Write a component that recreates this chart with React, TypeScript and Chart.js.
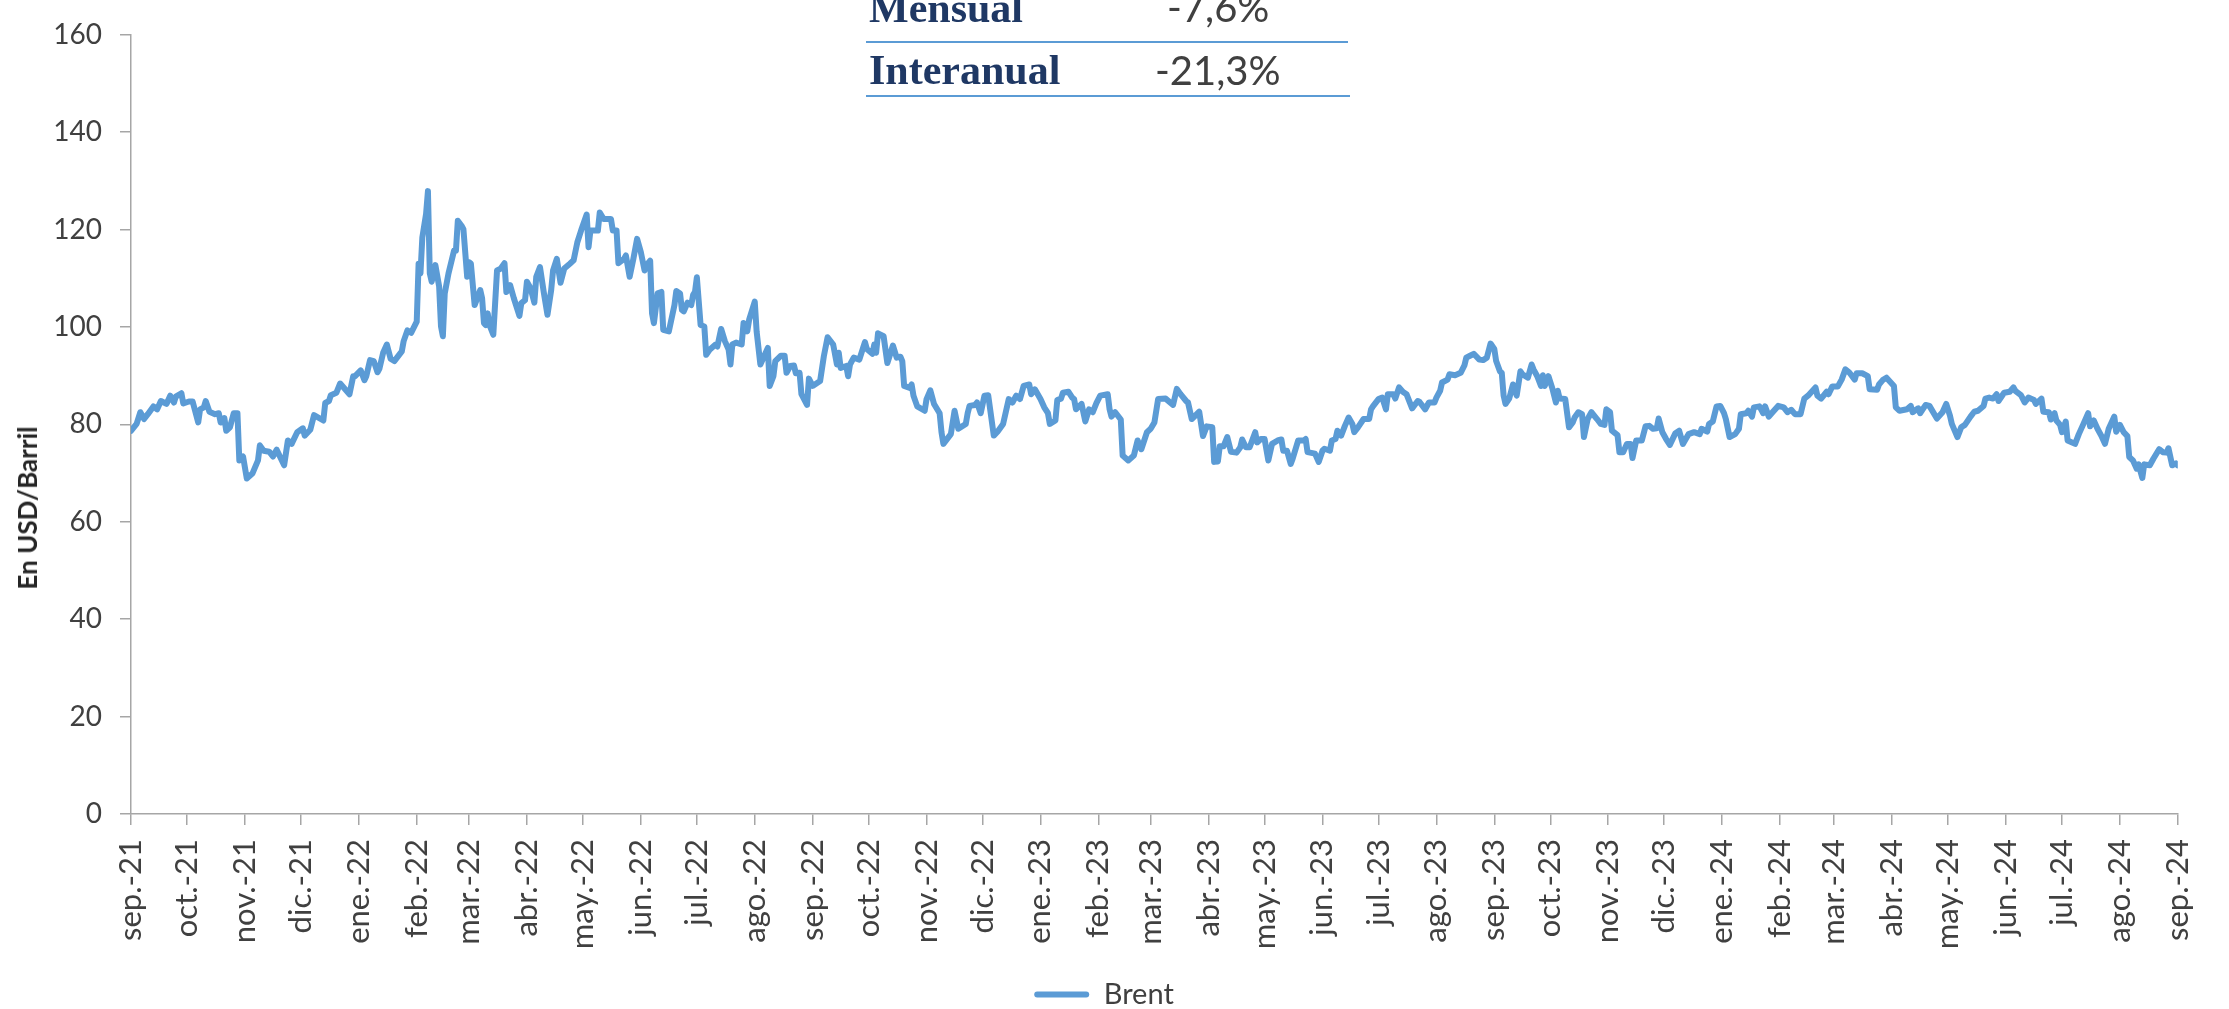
import React, { useEffect, useRef } from 'react';
import { Chart, registerables } from 'chart.js';

Chart.register(...registerables);

// Month tick labels (Excel-style date axis, Spanish locale)
const monthLabels = [
  'sep.-21', 'oct.-21', 'nov.-21', 'dic.-21',
  'ene.-22', 'feb.-22', 'mar.-22', 'abr.-22', 'may.-22', 'jun.-22', 'jul.-22', 'ago.-22', 'sep.-22', 'oct.-22', 'nov.-22', 'dic.-22',
  'ene.-23', 'feb.-23', 'mar.-23', 'abr.-23', 'may.-23', 'jun.-23', 'jul.-23', 'ago.-23', 'sep.-23', 'oct.-23', 'nov.-23', 'dic.-23',
  'ene.-24', 'feb.-24', 'mar.-24', 'abr.-24', 'may.-24', 'jun.-24', 'jul.-24', 'ago.-24', 'sep.-24',
];

const yTicks = [0, 20, 40, 60, 80, 100, 120, 140, 160];

// Days elapsed since 1 Sep 2021
const dayOffsets = [
  0, 3, 5, 7, 9, 12, 14, 16, 19, 21, 23, 24, 27, 28, 31, 33, 36, 37, 39, 40, 42, 45, 47, 48, 50, 51, 53, 55, 57, 58,
  60, 62, 65, 68, 69, 71, 74, 76, 78, 82, 84, 86, 89, 92, 93, 96, 98, 103, 104, 106, 107, 110, 112, 117, 119, 120,
  123, 125, 126, 128, 130, 132, 133, 135, 137, 139, 141, 145, 146, 148, 150, 153, 154, 155, 156, 158, 159, 160, 161,
  163, 165, 166, 167, 168, 170, 173, 174, 175, 177, 178, 180, 181, 182, 184, 185, 187, 188, 189, 190, 191, 192, 194,
  196, 198, 200, 201, 203, 205, 208, 209, 211, 212, 214, 216, 217, 219, 221, 223, 225, 226, 228, 230, 232, 235, 237,
  239, 241, 244, 245, 246, 250, 251, 253, 257, 258, 260, 261, 264, 265, 267, 269, 271, 273, 275,
  276, 278, 279, 280, 282, 284, 285, 288, 291, 292, 294, 295, 296, 298, 300, 301, 302, 303, 305, 307, 308, 310, 313,
  314, 316, 318, 320, 321, 322, 324, 327, 328, 330, 331, 334, 335, 337, 339, 341, 342, 344, 345, 348, 350, 351, 353,
  355, 356, 358, 359, 362, 363, 365, 369, 371, 373, 376, 378, 379, 380, 383, 384, 385, 387, 390, 392, 393, 394, 397,
  398, 399, 400, 403, 405, 408, 410, 412, 413, 414, 417, 418, 419, 421, 425, 426, 428, 430, 433, 434, 435, 439, 441,
  443, 447, 448, 449, 452, 453, 455, 457, 459, 462, 464, 467, 470, 472, 474, 476, 478, 481, 482, 484, 487, 489, 491,
  492, 495, 496, 498, 499, 502, 504, 505, 506, 509, 511, 513, 515, 517, 519, 523, 524, 525, 527, 530, 531, 534, 537,
  539, 541, 544, 546, 548, 550,
  554, 558, 560, 562, 565, 566, 568, 572, 574, 576, 579, 580, 582, 583, 585, 587, 589, 592, 594, 595, 597, 599, 602,
  603, 605, 607, 609, 611, 614, 616, 617, 619, 621, 622, 625, 628, 629, 630, 634, 636, 638, 639, 642, 643, 645, 646,
  648, 650, 652, 654, 655, 657, 660, 663, 664, 665, 668, 670, 672, 673, 676, 677, 679, 681, 683, 686, 689, 690, 693,
  695, 698, 699, 701, 702, 705, 706, 709, 712, 714, 715, 717, 719, 722, 724, 726, 728, 730, 731, 733, 734, 735, 736,
  738, 740, 742, 744, 745, 748, 750, 751, 753, 755, 756, 757, 759, 761, 763, 764, 765, 768, 770, 772, 773, 775, 777,
  778, 780, 782, 785, 787, 789, 790, 792, 793, 796, 797, 799, 801, 803, 804, 806, 809, 811, 813, 815, 817, 818, 820,
  822, 824,
  827, 829, 831, 834, 837, 840, 841, 844, 845, 847, 849, 851, 853, 854, 856, 859, 861, 862, 865, 866, 868, 869, 872,
  874, 875, 877, 879, 882, 885, 887, 889, 891, 894, 896, 898, 902, 903, 905, 908, 909, 911, 914, 916, 918, 920, 923,
  924, 927, 930, 931, 935, 936, 938, 940, 944, 945, 947, 951, 953, 954, 957, 958, 961, 963, 967, 970, 972, 974, 975,
  978, 980, 982, 985, 987, 989, 992, 993, 995, 997, 999, 1000, 1003, 1006, 1008, 1009, 1012, 1014, 1016, 1019, 1020,
  1023, 1024, 1027, 1028, 1030, 1031, 1033, 1034, 1036, 1037, 1041, 1043, 1045, 1048, 1049, 1051, 1053, 1055, 1057,
  1059, 1062, 1063, 1065, 1067, 1069, 1070, 1072, 1074, 1075, 1077, 1078, 1081, 1083, 1086, 1088, 1090, 1091, 1093,
  1095, 1096,
];

// Brent, USD per barrel
const brentUSD = [
  78.7, 80.1, 82.5, 81.1, 82.1, 83.7, 83.1, 84.8, 84.2, 85.9, 84.5, 85.7, 86.4, 84.3, 84.7, 84.7, 80.4, 83.1, 83.5, 84.8,
  82.6, 82.1, 82.3, 80.4, 81.3, 78.7, 79.4, 82.3, 82.3, 72.6,
  73.4, 68.9, 69.9, 72.6, 75.7, 74.6, 74.4, 73.4, 74.8, 71.6, 76.7, 76.0, 78.4, 79.2, 77.7, 78.9, 81.9, 80.8, 84.4, 84.8,
  86.0, 86.5, 88.4, 86.2, 89.9, 89.9,
  91.1, 89.1, 89.9, 93.2, 93.0, 90.7, 91.4, 94.7, 96.4, 93.5, 93.0, 95.0, 97.1, 99.3, 98.8, 101.1, 113.0, 111.0, 118.4,
  123.2, 127.9, 111.0, 109.3,
  112.7, 108.3, 100.1, 98.1, 106.9, 111.0, 115.7, 115.7, 121.8, 120.8, 120.1, 110.3, 113.3, 113.0, 104.5, 105.5, 107.6,
  105.9, 100.8, 100.4, 102.8, 100.4, 98.4,
  111.6, 112.0, 113.1, 107.2, 108.6, 105.9, 102.3, 104.9, 105.5, 109.3, 107.9, 105.0, 110.3, 112.3, 107.2, 102.5, 107.6,
  111.6, 114.0, 109.1, 112.0, 113.0, 113.7,
  117.4, 119.8, 123.1, 116.4, 119.8, 119.8, 123.5, 122.2, 122.2, 119.8, 119.8, 113.1, 114.0, 114.7, 110.3, 114.0, 118.1,
  115.4, 111.6,
  112.7, 113.6, 102.8, 100.8, 106.9, 107.2, 99.4, 99.1, 104.5, 107.4, 106.9, 103.5, 103.2, 105.0, 104.5, 106.6, 107.2,
  110.2, 100.4, 100.1, 94.3, 95.4, 96.4,
  96.0, 99.6, 97.1, 95.4, 92.3, 96.4, 96.8, 96.4, 100.8, 99.1, 101.5, 105.2, 99.1, 92.3, 94.0, 95.7, 87.9, 89.9, 93.0,
  94.1, 94.1, 90.6, 92.0,
  92.1, 90.5, 90.6, 86.2, 84.0, 89.4, 87.9, 88.9, 94.0, 97.9, 96.4, 92.3, 94.7, 91.6, 92.0, 89.9, 92.3, 93.7, 93.3,
  95.7, 96.9, 95.5, 94.5,
  96.4, 94.7, 98.7, 98.1, 92.6, 96.2, 93.7, 93.9, 93.0, 87.9, 87.5, 88.2, 85.9, 83.7, 82.8, 85.2, 87.0, 84.2, 82.3,
  78.4, 76.0, 78.0, 82.8,
  79.1, 80.1, 82.3, 83.8, 84.0, 84.5, 82.3, 85.9, 86.0, 77.7, 78.5, 80.1, 85.2, 84.5, 85.9, 85.2, 87.9, 88.2, 86.2,
  87.2, 85.2, 83.5, 82.3,
  80.1, 80.8, 85.0, 85.3, 86.5, 86.7, 85.5, 85.2, 83.1, 84.2, 80.6, 83.1, 82.5, 84.4, 85.9, 86.2, 83.1, 81.6, 82.5,
  81.0, 73.6, 72.6, 73.6,
  76.7, 74.9, 78.4, 79.1, 80.4, 85.2,
  85.3, 84.0, 87.3, 86.2, 84.8, 84.5, 81.1, 82.6, 77.6, 79.6, 79.4, 72.3, 72.4, 75.5, 75.5, 77.4, 74.4, 74.2, 75.3,
  76.9, 75.3, 75.3, 78.4,
  76.3, 77.0, 77.0, 72.6, 76.0, 76.7, 76.9, 74.6, 74.6, 71.9, 72.9, 76.7, 76.7, 77.0, 74.3, 74.0, 72.3, 74.6, 75.0,
  74.6, 76.7, 77.0, 78.7,
  77.7, 79.7, 81.4, 80.1, 78.4, 79.4, 81.1, 81.1, 83.1, 83.7, 85.2, 85.5, 83.1, 86.2, 86.2, 85.3, 87.6, 86.7, 86.2,
  83.3, 84.8, 84.6, 83.1,
  84.5, 84.5, 85.5, 86.9, 88.6, 89.2, 90.3, 90.1, 90.6, 92.1, 93.7, 94.1, 94.5, 93.3, 93.2, 93.7, 96.6, 95.5, 93.0,
  90.9, 90.6, 85.9, 84.2,
  85.3, 88.2, 85.9, 90.9, 90.3, 89.6, 92.3, 91.3, 89.9, 87.9, 90.1, 87.9, 89.9, 87.5, 84.5, 86.9, 85.3, 85.2, 79.4,
  80.4, 81.4, 82.5, 82.1,
  77.4, 81.1, 82.5, 81.1, 80.1, 79.9, 83.1, 82.5, 78.7, 77.8, 74.3, 74.3, 76.0, 76.0, 73.1, 76.7, 76.7, 79.6, 79.7,
  79.1, 79.2, 81.2, 78.4,
  77.0, 75.8,
  78.2, 78.7, 76.0, 78.0, 78.4, 78.0, 79.1, 78.5, 80.1, 80.6, 83.7, 83.8, 82.3, 81.1, 77.4, 78.0, 79.1, 82.1, 82.3,
  82.8, 81.6, 83.5, 83.7,
  82.3, 83.7, 81.6, 82.5, 83.8, 83.5, 82.5, 83.0, 82.1, 82.1, 85.3, 85.9, 87.6, 85.9, 85.3, 86.7, 86.2, 87.8, 87.8,
  89.2, 91.3, 90.7, 89.2,
  90.5, 90.5, 89.9, 87.2, 87.1, 88.2, 89.1, 89.6, 87.9, 83.5, 82.8, 83.1, 83.8, 82.5, 83.3, 82.3, 84.0, 83.8, 81.2,
  82.5, 84.2, 81.8, 80.1,
  77.4, 79.4, 79.9, 81.6, 82.6, 82.8, 83.8, 85.3, 85.5, 85.3, 86.2, 84.8, 86.5, 86.7, 87.6, 86.9, 86.0, 84.5, 85.5,
  85.0, 84.2,
  85.3, 82.6, 82.5, 81.0, 82.3, 80.8, 79.9, 78.4, 80.6, 76.7, 76.0, 78.0, 79.7, 82.3, 79.6, 80.8, 79.1, 77.7, 76.0,
  79.1, 81.6, 78.5, 79.9, 78.4, 77.6, 73.3, 72.6, 70.9, 71.8, 69.0, 71.8, 71.6, 73.0, 74.9, 74.3, 74.2, 75.1, 71.6,
  72.0, 71.6,
];

const summaryRows = ['Mensual', 'Interanual'];
const summaryValues = ['-7,6%', '-21,3%'];

const LINE_BLUE = '#5B9BD5';
const AXIS_GREY = '#A6A6A6';
const TEXT_GREY = '#404040';
const FONT = 'Lato, "Open Sans", sans-serif';

const monthOffsets = monthLabels.map(
  (_, i) => (Date.UTC(2021, 8 + i, 1) - Date.UTC(2021, 8, 1)) / 86400000
);

export default function App() {
  const canvasRef = useRef<HTMLCanvasElement>(null);

  useEffect(() => {
    const canvas = canvasRef.current;
    if (!canvas) return;
    const chart = new Chart(canvas, {
      type: 'line',
      data: {
        datasets: [
          {
            label: 'Brent',
            data: dayOffsets.map((d, i) => ({ x: d, y: brentUSD[i] })),
            borderColor: LINE_BLUE,
            backgroundColor: LINE_BLUE,
            borderWidth: 6,
            pointRadius: 0,
            pointHoverRadius: 0,
            tension: 0,
            borderJoinStyle: 'round',
            borderCapStyle: 'round',
            fill: false,
          },
        ],
      },
      options: {
        animation: false,
        responsive: false,
        maintainAspectRatio: false,
        events: [],
        layout: { padding: { left: 0, right: 21, top: 21, bottom: -10 } },
        plugins: {
          tooltip: { enabled: false },
          legend: {
            display: true,
            position: 'bottom',
            labels: {
              color: TEXT_GREY,
              font: { family: FONT, size: 29 },
              boxWidth: 55,
              boxHeight: 6,
              padding: 0,
              generateLabels: (c: any) =>
                c.data.datasets.map((ds: any, i: number) => ({
                  text: ds.label,
                  fillStyle: ds.borderColor,
                  strokeStyle: ds.borderColor,
                  lineWidth: 0,
                  borderRadius: 3,
                  hidden: false,
                  datasetIndex: i,
                  fontColor: TEXT_GREY,
                })),
            },
          },
        },
        scales: {
          x: {
            type: 'linear',
            min: 0,
            max: monthOffsets[monthOffsets.length - 1],
            afterBuildTicks: (scale: any) => {
              scale.ticks = monthOffsets.map((v) => ({ value: v }));
            },
            afterFit: (scale: any) => {
              scale.height = 166;
            },
            ticks: {
              autoSkip: false,
              maxRotation: 90,
              minRotation: 90,
              padding: 14,
              color: TEXT_GREY,
              font: { family: FONT, size: 31 },
              callback: (_v: any, i: number) => monthLabels[i],
            },
            grid: {
              drawOnChartArea: false,
              drawTicks: true,
              tickLength: 11,
              color: AXIS_GREY,
              lineWidth: 1.5,
            },
            border: { display: true, color: AXIS_GREY, width: 1.5 },
          },
          y: {
            type: 'linear',
            min: yTicks[0],
            max: yTicks[yTicks.length - 1],
            afterBuildTicks: (scale: any) => {
              scale.ticks = yTicks.map((v) => ({ value: v }));
            },
            afterFit: (scale: any) => {
              scale.width = 131;
            },
            ticks: {
              padding: 18,
              color: TEXT_GREY,
              font: { family: FONT, size: 28 },
              callback: (v: any) => String(v),
            },
            grid: {
              drawOnChartArea: false,
              drawTicks: true,
              tickLength: 11,
              color: AXIS_GREY,
              lineWidth: 1.5,
            },
            border: { display: true, color: AXIS_GREY, width: 1.5 },
          },
        },
      },
    });
    return () => chart.destroy();
  }, []);

  return (
    <div style={{ position: 'fixed', left: 0, top: 0, width: 2229, height: 1009, background: '#FFFFFF', overflow: 'hidden' }}>
      <canvas ref={canvasRef} width={2229} height={1009} style={{ display: 'block', width: 2229, height: 1009 }} />
      <div
        style={{
          position: 'absolute',
          left: 27,
          top: 508,
          transform: 'translate(-50%, -50%) rotate(-90deg)',
          font: `bold 26px ${FONT}`,
          color: '#262626',
          whiteSpace: 'nowrap',
        }}
      >
        En USD/Barril
      </div>
      {/* Summary table (partly cut at the top) */}
      <div style={{ position: 'absolute', left: 866, top: 41, width: 482, height: 2, background: LINE_BLUE }} />
      <div style={{ position: 'absolute', left: 866, top: 95, width: 484, height: 2, background: LINE_BLUE }} />
      {summaryRows.map((r, i) => (
        <div
          key={r}
          style={{
            position: 'absolute',
            left: 869,
            top: i === 0 ? -13 : 49,
            font: 'bold 42px "Liberation Serif", serif',
            lineHeight: '42px',
            color: '#1F3864',
            whiteSpace: 'nowrap',
          }}
        >
          {r}
        </div>
      ))}
      {summaryValues.map((v, i) => (
        <div
          key={v}
          style={{
            position: 'absolute',
            left: i === 0 ? 1167 : 1155,
            top: i === 0 ? -13 : 50,
            font: `40px ${FONT}`,
            lineHeight: '40px',
            color: TEXT_GREY,
            whiteSpace: 'nowrap',
          }}
        >
          {v}
        </div>
      ))}
    </div>
  );
}
